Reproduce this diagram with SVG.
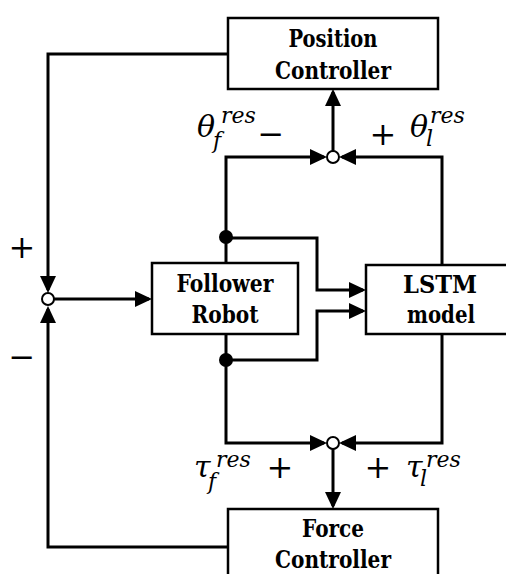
<svg xmlns="http://www.w3.org/2000/svg" width="506" height="574" viewBox="0 0 506 574">
<style>
.box{fill:#fff;stroke:#000;stroke-width:2.5}
.ln{fill:none;stroke:#000;stroke-width:3;stroke-linejoin:miter}
.bt{font-family:'DejaVu Serif',serif;font-weight:bold;font-size:25px;text-anchor:middle;fill:#000}
.op{font-family:'DejaVu Serif',serif;font-size:32px;text-anchor:middle;fill:#000}
.m{font-family:'DejaVu Serif',serif;font-style:italic;fill:#000}
.big{font-size:30px}
.sm{font-size:22px}
</style>
<defs>
<marker id="ah" markerUnits="userSpaceOnUse" markerWidth="18" markerHeight="16" viewBox="0 0 17 16" refX="14" refY="8" orient="auto">
<path d="M0,0 L17,8 L0,16 z" fill="#000"/>
</marker>
</defs>
<g id="connectors">
<path class="ln" d="M228,54 H48 V290" marker-end="url(#ah)"/>
<path class="ln" d="M228,547 H48 V309" marker-end="url(#ah)"/>
<path class="ln" d="M54,299 H149" marker-end="url(#ah)"/>
<path class="ln" d="M226,263 V157 H324" marker-end="url(#ah)"/>
<path class="ln" d="M442,265 V157 H342" marker-end="url(#ah)"/>
<path class="ln" d="M333,151 V92" marker-end="url(#ah)"/>
<path class="ln" d="M226,334 V443 H324" marker-end="url(#ah)"/>
<path class="ln" d="M442,334 V443 H342" marker-end="url(#ah)"/>
<path class="ln" d="M333,449 V506" marker-end="url(#ah)"/>
<path class="ln" d="M226,238 H317 V290 H363" marker-end="url(#ah)"/>
<path class="ln" d="M226,360 H317 V311 H363" marker-end="url(#ah)"/>
<circle cx="226" cy="237" r="7" fill="#000"/>
<circle cx="226" cy="360" r="7" fill="#000"/>
</g>
<g id="sum-left">
<circle cx="48" cy="299" r="6" fill="#fff" stroke="#000" stroke-width="2"/>
<text class="op" x="22" y="258">+</text>
<text class="op" x="22" y="368">−</text>
</g>
<g id="sum-top">
<circle cx="333" cy="157" r="6" fill="#fff" stroke="#000" stroke-width="2"/>
<text class="op" x="271" y="145">−</text>
<text class="op" x="383" y="145">+</text>
<text class="m big" x="197" y="137">θ</text>
<text class="m sm" x="221" y="123">res</text>
<text class="m sm" x="213" y="148">f</text>
<text class="m big" x="410" y="137">θ</text>
<text class="m sm" x="430" y="123">res</text>
<text class="m sm" x="426" y="146">l</text>
</g>
<g id="sum-bottom">
<circle cx="333" cy="443" r="6" fill="#fff" stroke="#000" stroke-width="2"/>
<text class="op" x="280" y="478">+</text>
<text class="op" x="378" y="478">+</text>
<text class="m big" x="194" y="477">τ</text>
<text class="m sm" x="216" y="467">res</text>
<text class="m sm" x="208" y="489">f</text>
<text class="m big" x="406" y="477">τ</text>
<text class="m sm" x="426" y="467">res</text>
<text class="m sm" x="420" y="486">l</text>
</g>
<g id="position-controller">
<rect class="box" x="228" y="18" width="210" height="71"/>
<text class="bt" x="333" y="47" textLength="89" lengthAdjust="spacingAndGlyphs">Position</text>
<text class="bt" x="333" y="79" textLength="116" lengthAdjust="spacingAndGlyphs">Controller</text>
</g>
<g id="follower-robot">
<rect class="box" x="152" y="263" width="146" height="71"/>
<text class="bt" x="225" y="292" textLength="97" lengthAdjust="spacingAndGlyphs">Follower</text>
<text class="bt" x="225" y="323" textLength="67" lengthAdjust="spacingAndGlyphs">Robot</text>
</g>
<g id="lstm-model">
<rect class="box" x="366" y="265" width="150" height="69"/>
<text class="bt" x="440" y="293" textLength="74" lengthAdjust="spacingAndGlyphs">LSTM</text>
<text class="bt" x="441" y="323" textLength="68" lengthAdjust="spacingAndGlyphs">model</text>
</g>
<g id="force-controller">
<rect class="box" x="228" y="509" width="210" height="80"/>
<text class="bt" x="333" y="537" textLength="62" lengthAdjust="spacingAndGlyphs">Force</text>
<text class="bt" x="333" y="568" textLength="116" lengthAdjust="spacingAndGlyphs">Controller</text>
</g>
</svg>
